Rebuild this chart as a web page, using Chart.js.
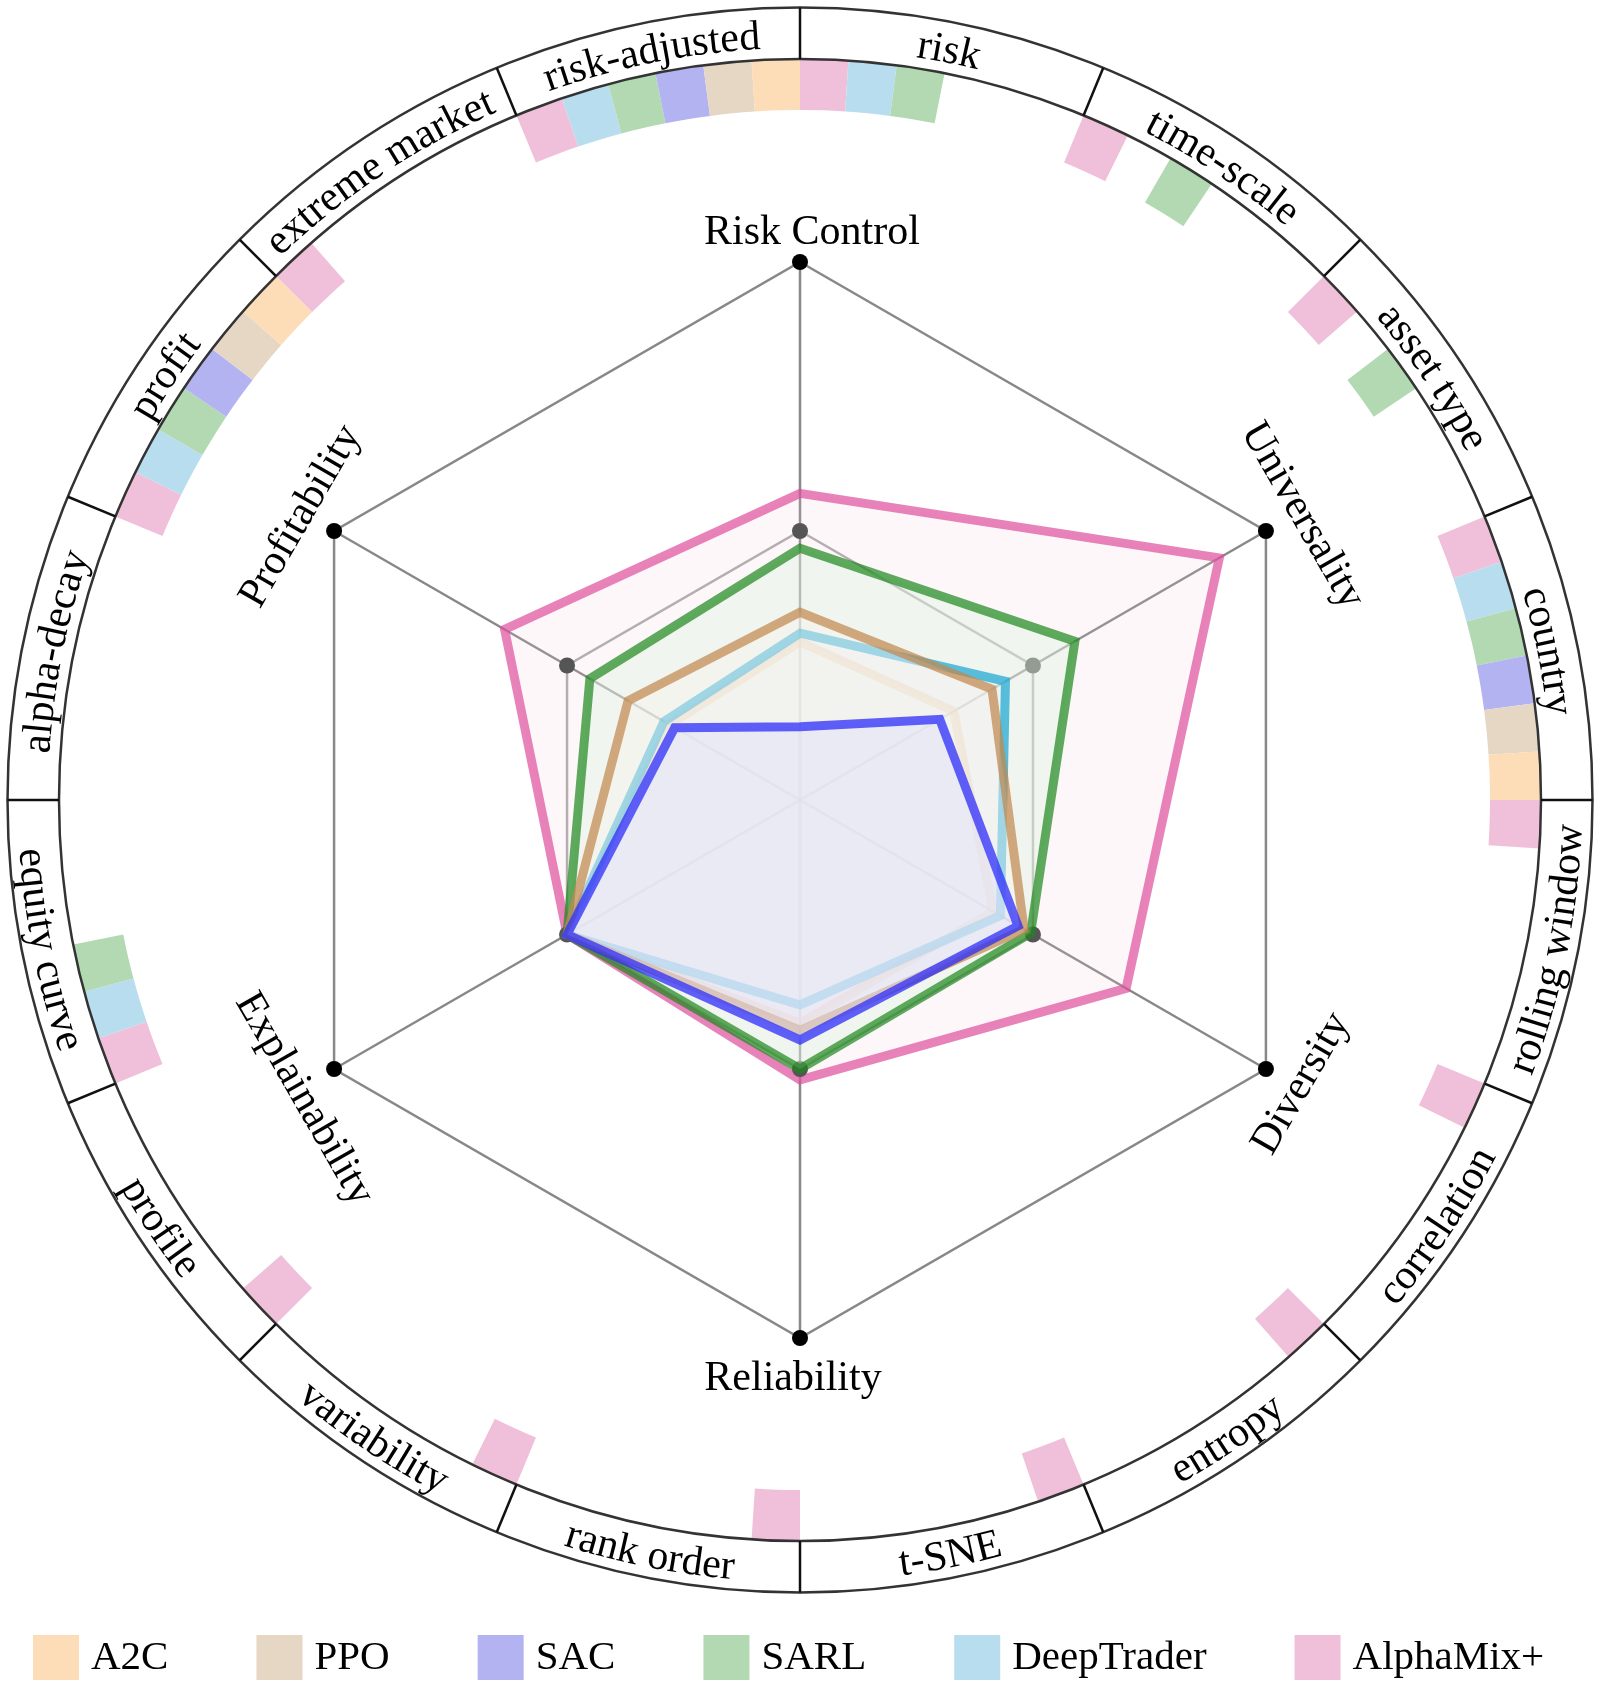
<!DOCTYPE html>
<html>
<head>
<meta charset="utf-8">
<script src="https://cdn.jsdelivr.net/npm/chart.js@4.4.1/dist/chart.umd.min.js"></script>
<style>
html,body{margin:0;padding:0;background:#fff;}
#wrap{position:relative;width:1600px;height:1690px;}
canvas{position:absolute;left:0;top:0;}
</style>
</head>
<body>
<div id="wrap">
<canvas id="radar" width="1600" height="1690"></canvas>
<canvas id="ring" width="1600" height="1690"></canvas>
</div>
<script>
// ---------- data ----------
const axes = ['Risk Control', 'Universality', 'Diversity', 'Reliability', 'Explainability', 'Profitability'];
const methods = ['A2C', 'PPO', 'SAC', 'SARL', 'DeepTrader', 'AlphaMix+'];
const a2cScores        = [0.294, 0.330, 0.415, 0.415, 0.50, 0.280];
const ppoScores        = [0.349, 0.412, 0.481, 0.428, 0.50, 0.369];
const sacScores        = [0.136, 0.300, 0.468, 0.446, 0.50, 0.269];
const sarlScores       = [0.468, 0.590, 0.495, 0.500, 0.50, 0.451];
const deepTraderScores = [0.310, 0.441, 0.430, 0.381, 0.50, 0.292];
const alphaMixScores   = [0.570, 0.900, 0.700, 0.520, 0.50, 0.634];
const scaleTicks = [0.5, 1.0];

const subMetrics = ['risk', 'time-scale', 'asset type', 'country', 'rolling window', 'correlation',
  'entropy', 't-SNE', 'rank order', 'variability', 'profile', 'equity curve', 'alpha-decay',
  'profit', 'extreme market', 'risk-adjusted'];
// which sub-metric each method covers (1 = covered)
const coverAlphaMix   = [1,1,1,1,1,1,1,1,1,1,1,1,0,1,1,1];
const coverDeepTrader = [1,0,0,1,0,0,0,0,0,0,0,1,0,1,0,1];
const coverSARL       = [1,1,1,1,0,0,0,0,0,0,0,1,0,1,0,1];
const coverSAC        = [0,0,0,1,0,0,0,0,0,0,0,0,0,1,0,1];
const coverPPO        = [0,0,0,1,0,0,0,0,0,0,0,0,0,1,0,1];
const coverA2C        = [0,0,0,1,0,0,0,0,0,0,0,0,0,1,0,1];

// ---------- styles ----------
const lightColors = {
  'A2C': '#FDDDB8', 'PPO': '#E6D6C4', 'SAC': '#B3B3F2',
  'SARL': '#B3D9B3', 'DeepTrader': '#B8DDEF', 'AlphaMix+': '#F0C0DA'
};
const FONT = '"Liberation Serif", "Times New Roman", serif';
// per-label fine offsets: [shift along text, radial shift]
const labelOffsets = [[12, 0], [5, 10], [5, -3], [-7, 0], [11, 0], [-4, 7]];

// ---------- radar chart ----------
const labelPlugin = {
  id: 'axisLabelsAndLegend',
  afterDraw(chart) {
    const ctx = chart.ctx;
    const sc = chart.scales.r;
    const cx = sc.xCenter, cy = sc.yCenter, R = sc.drawingArea;
    ctx.save();
    ctx.fillStyle = '#000';
    ctx.font = '42px ' + FONT;
    ctx.textAlign = 'center';
    ctx.textBaseline = 'alphabetic';
    axes.forEach((name, i) => {
      const th = i * Math.PI / 3;
      const outward = (i === 0 || i === 1 || i === 5);
      const rb = (outward ? R + 18 : R + 52) + labelOffsets[i][1];
      const x = cx + rb * Math.sin(th), y = cy - rb * Math.cos(th);
      ctx.save();
      ctx.translate(x, y);
      ctx.rotate(outward ? th : th - Math.PI);
      ctx.fillText(name, labelOffsets[i][0], 0);
      ctx.restore();
    });
    // legend
    ctx.font = '41px ' + FONT;
    ctx.textAlign = 'left';
    let x = 33;
    const y = 1635, bw = 46, bh = 45, gap = 88;
    methods.forEach(m => {
      ctx.fillStyle = lightColors[m];
      ctx.fillRect(x, y, bw, bh);
      ctx.fillStyle = '#000';
      ctx.fillText(m, x + bw + 12, y + 34);
      x += bw + 12 + ctx.measureText(m).width + gap;
    });
    ctx.restore();
  }
};

const innerMarks = axes.map(() => scaleTicks[0]);
const outerMarks = axes.map(() => scaleTicks[1]);

new Chart(document.getElementById('radar'), {
  type: 'radar',
  data: {
    labels: axes,
    datasets: [
      { label: 'A2C', data: a2cScores, borderColor: 'rgba(238,190,145,0.55)', backgroundColor: 'rgba(250,240,228,0.3)', fill: true, borderWidth: 9, order: 4 },
      { label: 'PPO', data: ppoScores, borderColor: 'rgba(194,136,79,0.72)', backgroundColor: 'rgba(248,244,238,0.45)', fill: true, borderWidth: 9, order: 2 },
      { label: 'SAC', data: sacScores, borderColor: 'rgba(45,45,250,0.75)', backgroundColor: 'rgba(225,225,250,0.55)', fill: true, borderWidth: 9, order: 1 },
      { label: 'SARL', data: sarlScores, borderColor: 'rgba(28,136,28,0.70)', backgroundColor: 'rgba(225,242,225,0.45)', fill: true, borderWidth: 9, order: 5 },
      { label: 'DeepTrader', data: deepTraderScores, borderColor: 'rgba(22,165,211,0.70)', backgroundColor: 'rgba(230,242,248,0.35)', fill: true, borderWidth: 9, order: 3 },
      { label: 'AlphaMix+', data: alphaMixScores, borderColor: 'rgba(222,78,156,0.70)', backgroundColor: 'rgba(240,200,220,0.15)', fill: true, borderWidth: 9, order: 7 },
      { label: 'mid', data: innerMarks, showLine: false, fill: false, borderWidth: 0, pointRadius: 8, pointBackgroundColor: '#555', pointBorderWidth: 0, order: 6 },
      { label: 'outer', data: outerMarks, showLine: false, fill: false, borderWidth: 0, pointRadius: 8, pointBackgroundColor: '#000', pointBorderWidth: 0, order: 0 }
    ]
  },
  options: {
    responsive: false,
    animation: false,
    devicePixelRatio: 1,
    layout: { padding: { left: 262, right: 262, top: 262, bottom: 352 } },
    plugins: { legend: { display: false }, tooltip: { enabled: false } },
    elements: { point: { radius: 0, hoverRadius: 0 }, line: { borderJoinStyle: 'miter', tension: 0 } },
    scales: {
      r: {
        min: 0, max: 1,
        ticks: { display: false, stepSize: 0.5 },
        pointLabels: { display: false },
        grid: { color: c => (c.index === 1 ? '#aaaaaa' : '#888888'), lineWidth: 2.5 },
        angleLines: { color: '#888888', lineWidth: 2.5 }
      }
    }
  },
  plugins: [labelPlugin]
});

// ---------- outer ring (doughnut) ----------
const slotMethods = ['AlphaMix+', 'DeepTrader', 'SARL', 'SAC', 'PPO', 'A2C'];
const slotCover = [coverAlphaMix, coverDeepTrader, coverSARL, coverSAC, coverPPO, coverA2C];
const ringValues = [], ringColors = [];
subMetrics.forEach((s, k) => {
  slotMethods.forEach((m, j) => {
    ringValues.push(1);
    ringColors.push(slotCover[j][k] ? lightColors[m] : 'rgba(0,0,0,0)');
  });
});

function arcText(ctx, text, cx, cy, rb, thc, outward) {
  const chars = [...text];
  const widths = chars.map(ch => ctx.measureText(ch).width);
  const total = widths.reduce((a, b) => a + b, 0);
  const span = total / rb;
  let acc = 0;
  chars.forEach((ch, k) => {
    const w = widths[k];
    const mid = (acc + w / 2) / rb;
    acc += w;
    const th = outward ? thc - span / 2 + mid : thc + span / 2 - mid;
    ctx.save();
    ctx.translate(cx + rb * Math.sin(th), cy - rb * Math.cos(th));
    ctx.rotate(outward ? th : th - Math.PI);
    ctx.fillText(ch, 0, 0);
    ctx.restore();
  });
}

const ringPlugin = {
  id: 'ringFrame',
  afterDatasetsDraw(chart) {
    const arc0 = chart.getDatasetMeta(0).data[0];
    const cx = arc0.x, cy = arc0.y, rIn = arc0.outerRadius, rOut = rIn + 51.5;
    const ctx = chart.ctx;
    ctx.save();
    ctx.strokeStyle = '#333';
    ctx.lineWidth = 2.5;
    ctx.beginPath(); ctx.arc(cx, cy, rIn, 0, 2 * Math.PI); ctx.stroke();
    ctx.beginPath(); ctx.arc(cx, cy, rOut, 0, 2 * Math.PI); ctx.stroke();
    const n = subMetrics.length, step = 2 * Math.PI / n;
    ctx.strokeStyle = '#111';
    for (let k = 0; k < n; k++) {
      const th = k * step;
      ctx.beginPath();
      ctx.moveTo(cx + rIn * Math.sin(th), cy - rIn * Math.cos(th));
      ctx.lineTo(cx + rOut * Math.sin(th), cy - rOut * Math.cos(th));
      ctx.stroke();
    }
    ctx.fillStyle = '#000';
    ctx.font = '42px ' + FONT;
    ctx.textAlign = 'center';
    ctx.textBaseline = 'alphabetic';
    subMetrics.forEach((s, k) => {
      const thc = (k + 0.5) * step;
      const deg = thc * 180 / Math.PI;
      const outward = (deg < 90 || deg > 270);
      arcText(ctx, s, cx, cy, outward ? rIn + 11 : rIn + 41, thc, outward);
    });
    ctx.restore();
  }
};

new Chart(document.getElementById('ring'), {
  type: 'doughnut',
  data: {
    labels: ringValues.map((v, i) => subMetrics[Math.floor(i / 6)] + ' ' + slotMethods[i % 6]),
    datasets: [{ data: ringValues, backgroundColor: ringColors, borderWidth: 0, hoverOffset: 0 }]
  },
  options: {
    responsive: false,
    animation: false,
    devicePixelRatio: 1,
    cutout: 690,
    layout: { padding: { left: 59, right: 59, top: 59, bottom: 149 } },
    plugins: { legend: { display: false }, tooltip: { enabled: false } }
  },
  plugins: [ringPlugin]
});
</script>
</body>
</html>
